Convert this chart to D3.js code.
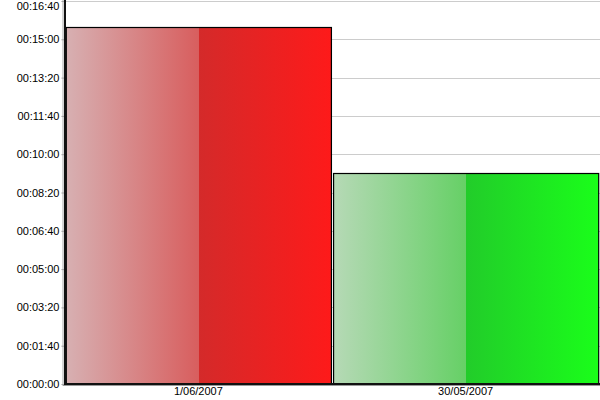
<!DOCTYPE html>
<html>
<head>
<meta charset="utf-8">
<script src="https://cdn.jsdelivr.net/npm/d3@7"></script>
<style>
  body { margin: 0; background: #fff; }
  svg { display: block; font-family: "Liberation Sans", Arial, sans-serif; }
</style>
</head>
<body>
<script>
// durations in seconds
const dates = ["1/06/2007", "30/05/2007"]
const durations = [931, 550]
const tickSeconds = [0, 100, 200, 300, 400, 500, 600, 700, 800, 900, 1000]

// light-to-mid stops for the left half, dark-to-bright for the right half
const barColors = [
  ["#d7b0b2", "#d85e5e", "#d42a2a", "#fe1a1a"],
  ["#b6d9b6", "#66d066", "#22cc2a", "#1afe1a"]
]

let width = 600
let height = 400
let margin = ({top: 1, right: 0, bottom: 16, left: 65})

let data = dates.map((d, i) => ({ name: d, secs: durations[i], colors: barColors[i] }))

let x = d3.scaleBand()
    .domain(dates)
    .range([margin.left, width - 1])
    .paddingInner(0.008)
    .paddingOuter(0.003)

let y = d3.scaleLinear()
    .domain([0, 1000])
    .range([height - margin.bottom, margin.top])

let fmt = s => d3.utcFormat("%H:%M:%S")(new Date(s * 1000))

const svg = d3.select("body").append("svg")
    .attr("width", width)
    .attr("height", height)

let defs = svg.append("defs")
data.forEach((d, i) => {
  let g = defs.append("linearGradient")
      .attr("id", "grad" + i)
      .attr("x1", "0%").attr("x2", "100%")
  g.append("stop").attr("offset", "0%").attr("stop-color", d.colors[0])
  g.append("stop").attr("offset", "50%").attr("stop-color", d.colors[1])
  g.append("stop").attr("offset", "50%").attr("stop-color", d.colors[2])
  g.append("stop").attr("offset", "100%").attr("stop-color", d.colors[3])
})

// gridlines
svg.append("g")
  .selectAll("line")
  .data(tickSeconds.filter(t => t > 0))
  .join("line")
    .attr("x1", margin.left)
    .attr("x2", width)
    .attr("y1", d => Math.round(y(d)) + 0.5)
    .attr("y2", d => Math.round(y(d)) + 0.5)
    .attr("stroke", "#cccccc")
    .attr("stroke-width", 1)

// bars
svg.append("g")
  .selectAll("rect")
  .data(data)
  .join("rect")
    .attr("x", d => x(d.name) + 0.5)
    .attr("y", d => Math.round(y(d.secs)) + 0.5)
    .attr("width", x.bandwidth())
    .attr("height", d => y(0) - Math.round(y(d.secs)))
    .attr("fill", (d, i) => `url(#grad${i})`)
    .attr("stroke", "#000")
    .attr("stroke-width", 1.2)

// y axis
let yAxis = g => g
    .attr("transform", `translate(${margin.left - 0.5},0)`)
    .call(d3.axisLeft(y).tickValues(tickSeconds).tickFormat(fmt).tickSize(3).tickPadding(2))
    .call(g => g.select(".domain").remove())
    .call(g => g.selectAll(".tick line").attr("stroke", "#999"))
    .call(g => g.selectAll("text").attr("fill", "#000").style("font-size", "11px")
        .style("font-family", "'Liberation Sans', Arial, sans-serif"))
    // top label gets pushed down so it stays inside the picture
    .call(g => g.selectAll(".tick").filter(d => d === 1000).select("text").attr("dy", "0.78em"))

svg.append("g").call(yAxis)

// x axis labels
let xAxis = g => g
    .attr("transform", `translate(0,${y(0)})`)
    .call(d3.axisBottom(x).tickSize(0).tickPadding(3))
    .call(g => g.select(".domain").remove())
    .call(g => g.selectAll("text").attr("fill", "#000").style("font-size", "11px")
        .style("font-family", "'Liberation Sans', Arial, sans-serif"))

svg.append("g").call(xAxis)

// axis lines with a faint shadow
svg.append("line")
    .attr("x1", margin.left - 2).attr("x2", margin.left - 2)
    .attr("y1", 0).attr("y2", y(0) + 2)
    .attr("stroke", "#aaa").attr("stroke-width", 1)
svg.append("line")
    .attr("x1", margin.left).attr("x2", margin.left)
    .attr("y1", 0).attr("y2", y(0) + 1)
    .attr("stroke", "#111").attr("stroke-width", 2)
svg.append("line")
    .attr("x1", margin.left - 1).attr("x2", width)
    .attr("y1", y(0)).attr("y2", y(0))
    .attr("stroke", "#111").attr("stroke-width", 2)
svg.append("line")
    .attr("x1", margin.left - 2).attr("x2", width)
    .attr("y1", y(0) + 1.5).attr("y2", y(0) + 1.5)
    .attr("stroke", "#999").attr("stroke-width", 1)
</script>
</body>
</html>
